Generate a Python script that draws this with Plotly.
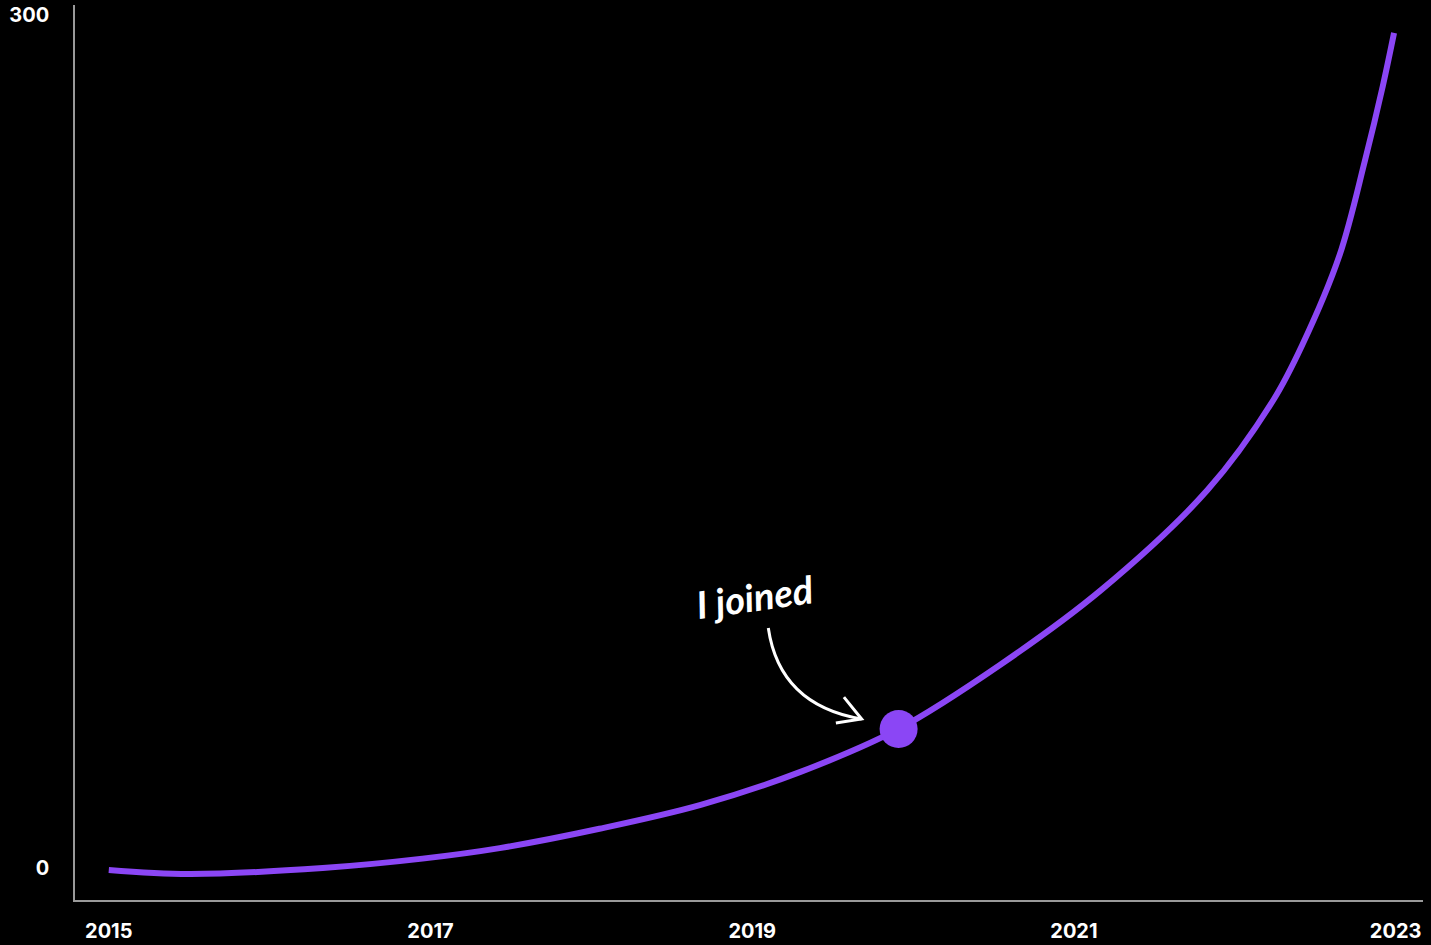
import plotly.graph_objects as go

# Data
years = [2015.0, 2015.50, 2016.33, 2016.95, 2017.43, 2018.05, 2018.68, 2019.30,
         2019.91, 2020.54, 2021.17, 2021.83, 2022.24, 2022.42,
         2022.65, 2022.81, 2022.92, 2022.99]
values = [-0.7, -2.1, 0.0, 3.3, 7.0, 13.8, 22.2, 33.8,
          48.9, 71.4, 97.8, 132.9, 164.6, 184.0,
          215.3, 249.0, 275.0, 293.7]
joined_year = [2019.91]
joined_value = [48.9]
x_ticks = [2015, 2017, 2019, 2021, 2023]
y_ticks = [0, 300]

PURPLE = "#8B46F5"
AXIS = "#9a9a9a"

fig = go.Figure()
fig.add_trace(go.Scatter(
    x=years, y=values, mode="lines",
    line=dict(color=PURPLE, width=6, shape="spline", smoothing=1.0),
    hoverinfo="skip", showlegend=False,
))
fig.add_trace(go.Scatter(
    x=joined_year, y=joined_value, mode="markers",
    marker=dict(color=PURPLE, size=38, line=dict(width=0)),
    hoverinfo="skip", showlegend=False,
))

# curved arrow
fig.add_shape(type="path", xref="x", yref="y",
              path="M 2019.10,84.4 Q 2019.17,57.3 2019.68,52.4",
              line=dict(color="white", width=3))
fig.add_shape(type="path", xref="x", yref="y",
              path="M 2019.57,60.1 L 2019.68,52.4 L 2019.52,51.0",
              line=dict(color="white", width=3))

fig.add_annotation(
    x=2019.02, y=95.5, xref="x", yref="y", text="I joined", showarrow=False,
    textangle=-8,
    font=dict(family="Lato", size=38, color="white", style="italic", weight="bold"),
)

fig.update_layout(
    width=1431, height=945,
    paper_bgcolor="black", plot_bgcolor="black",
    margin=dict(l=75, r=8, t=5, b=45, autoexpand=False),
    font=dict(family="Inter", color="white"),
)
fig.update_xaxes(
    range=[2014.79, 2023.17], tickvals=x_ticks, ticktext=[str(t) for t in x_ticks],
    showgrid=False, zeroline=False, showline=True, linecolor=AXIS, linewidth=1.5,
    ticks="outside", ticklen=12, tickcolor="rgba(0,0,0,0)", automargin=False,
    tickfont=dict(family="Inter", size=20, color="white", weight="bold"),
)
fig.update_yaxes(
    range=[-11.25, 303.5], tickvals=y_ticks, ticktext=[str(t) for t in y_ticks],
    showgrid=False, zeroline=False, showline=True, linecolor=AXIS, linewidth=1.5,
    ticks="outside", ticklen=20, tickcolor="rgba(0,0,0,0)", automargin=False,
    tickfont=dict(family="Inter", size=20, color="white", weight="bold"),
)

fig.write_html(
    "out.html",
    config={"displayModeBar": False},
    post_script="document.body.style.margin='0';document.body.style.background='black';",
)
